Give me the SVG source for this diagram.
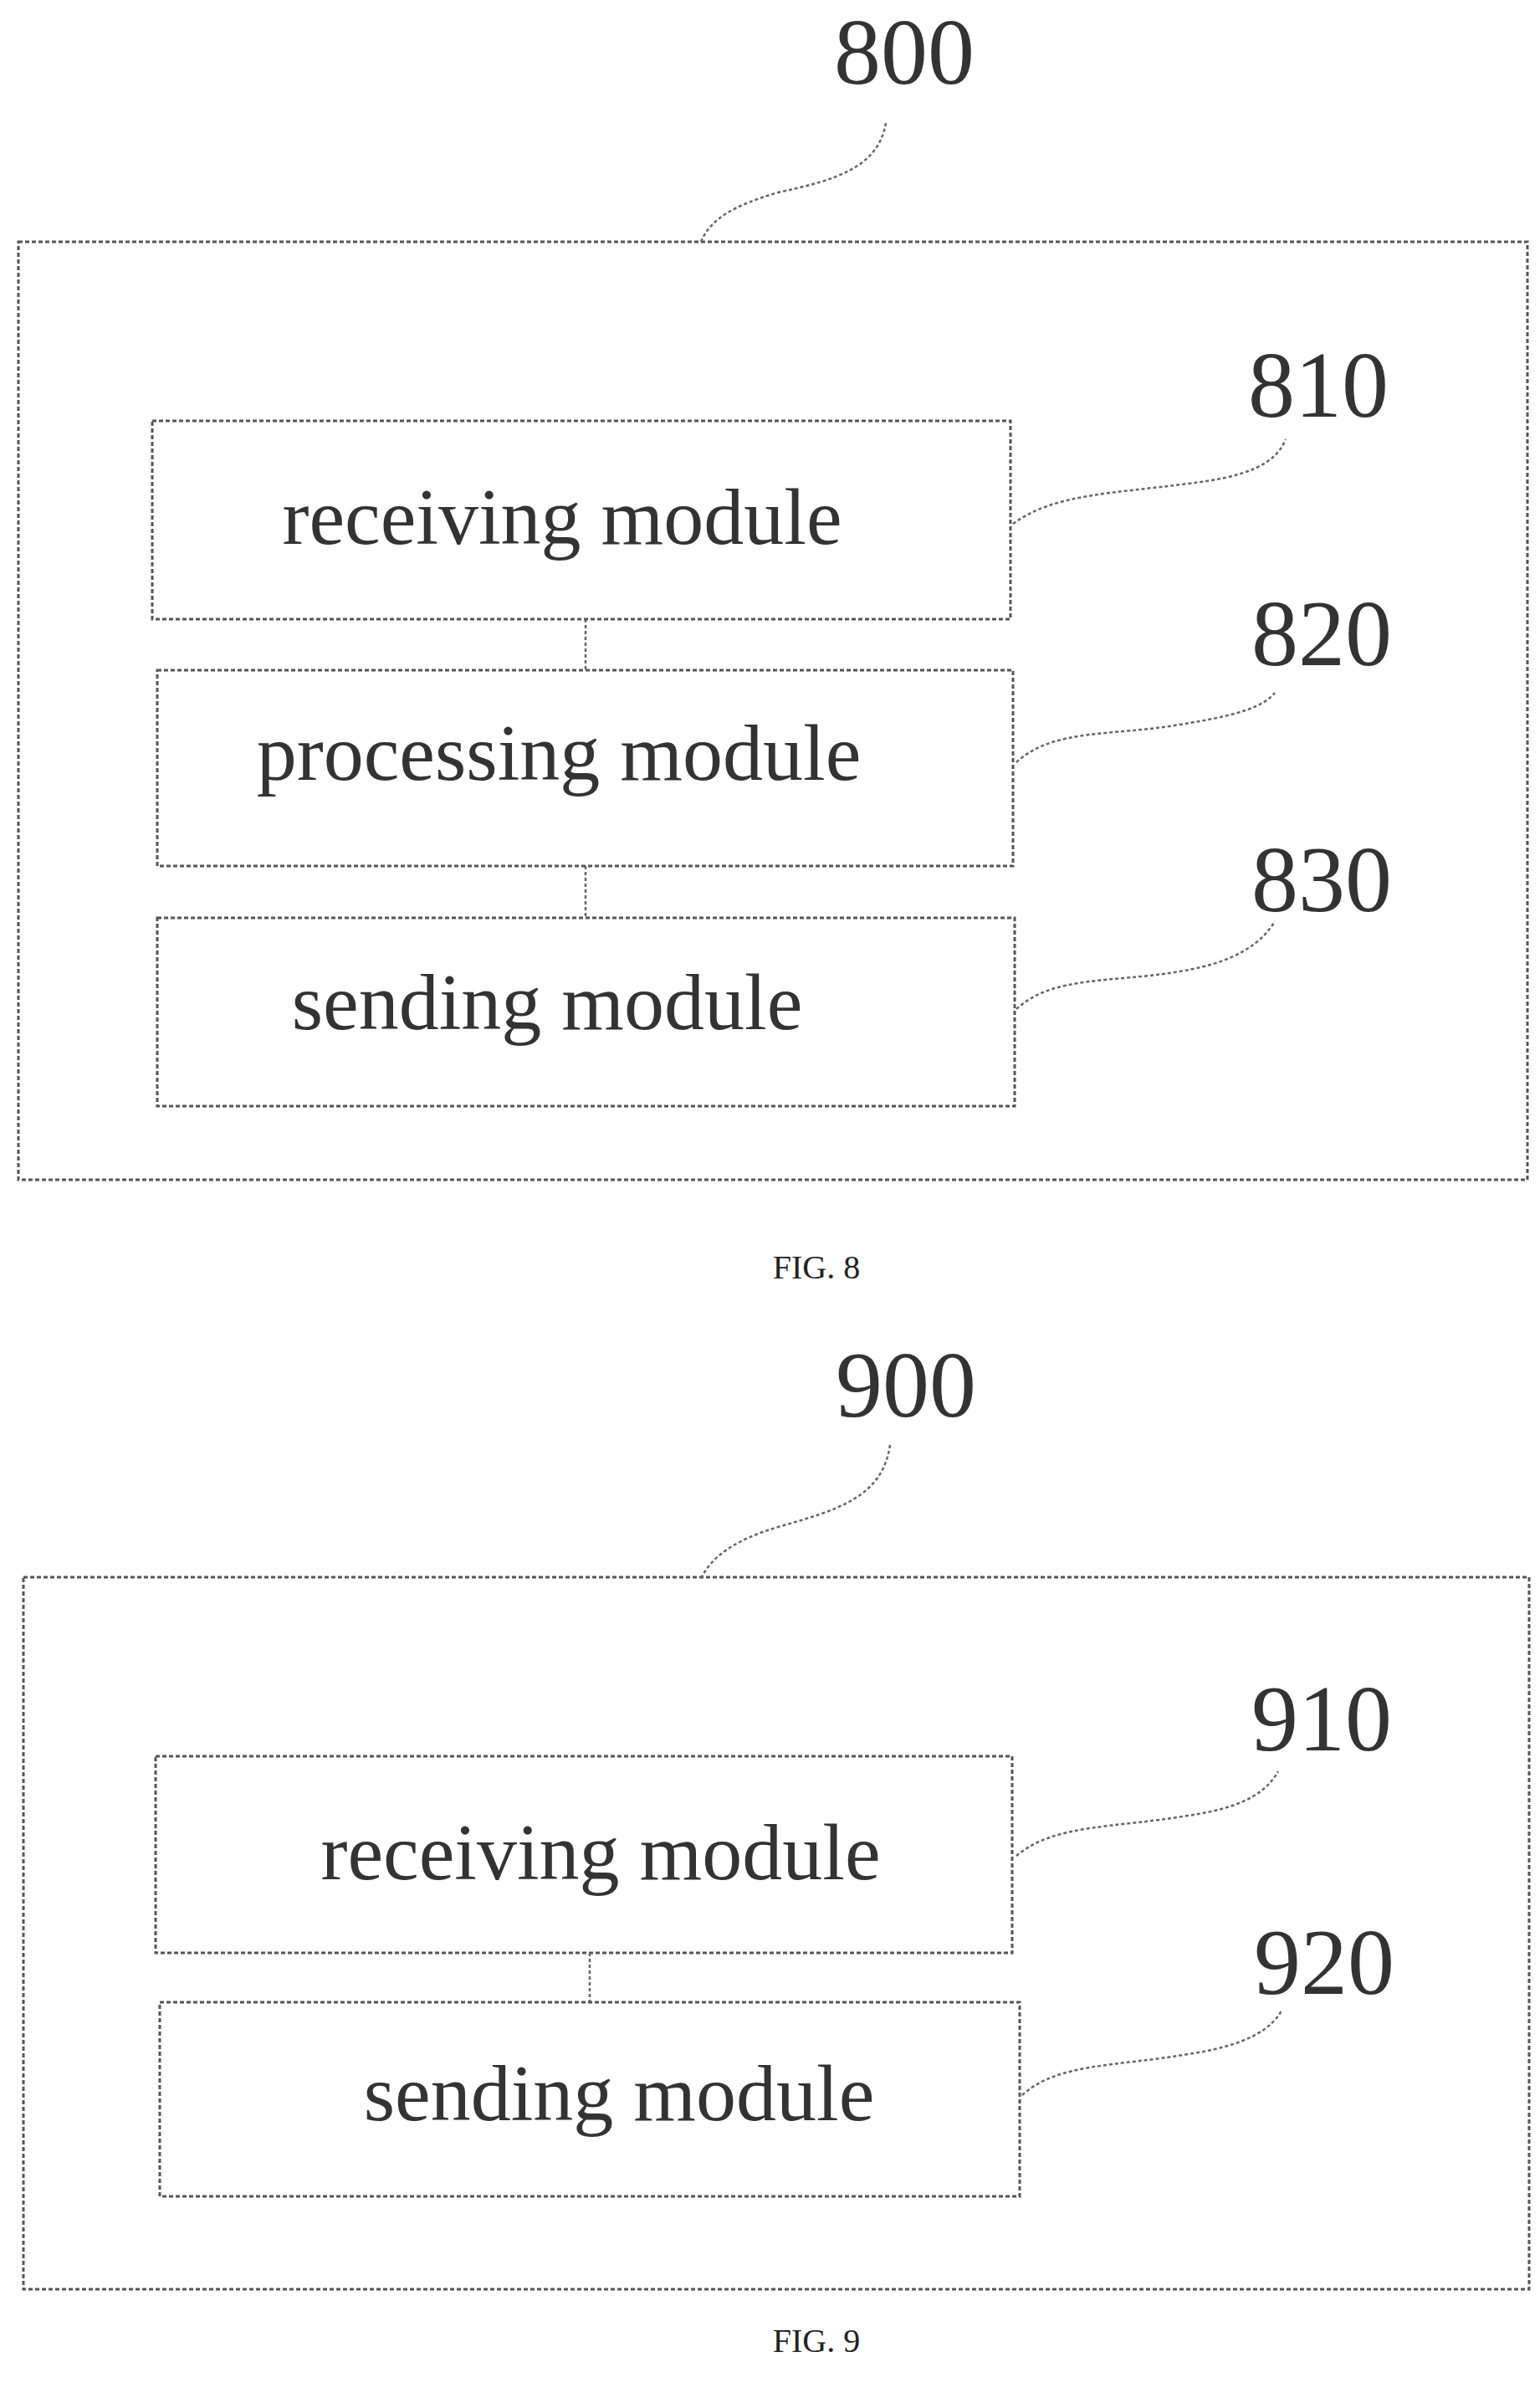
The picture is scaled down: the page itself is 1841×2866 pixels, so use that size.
<svg xmlns="http://www.w3.org/2000/svg" width="1841" height="2866" viewBox="0 0 1841 2866">
<style>
.b{fill:none;stroke:#555;stroke-width:3;stroke-dasharray:5 3}
.l{fill:none;stroke:#666;stroke-width:2.5;stroke-dasharray:4 3}
.t{font-family:"Liberation Serif",serif;font-size:96px;fill:#333;text-anchor:middle}
.n{font-family:"Liberation Serif",serif;font-size:112px;fill:#333;text-anchor:middle}
.f{font-family:"Liberation Serif",serif;font-size:40px;fill:#222;text-anchor:middle}
</style>
<rect width="1841" height="2866" fill="#fff"/>
<g id="fig8">
<rect id="n800" class="b" x="22" y="289" width="1804" height="1121"/>
<text class="n" x="1081" y="100">800</text>
<g id="n810"><rect class="b" x="182" y="503" width="1026" height="237"/><text class="t" x="672" y="650">receiving module</text><text class="n" x="1576" y="498">810</text></g>
<g id="n820"><rect class="b" x="188" y="801" width="1023" height="234"/><text class="t" x="668" y="932">processing module</text><text class="n" x="1580" y="795">820</text></g>
<g id="n830"><rect class="b" x="188" y="1097" width="1025" height="225"/><text class="t" x="654" y="1230">sending module</text><text class="n" x="1580" y="1089">830</text></g>
<text class="f" x="976" y="1528">FIG. 8</text>
</g>
<g id="fig9">
<rect id="n900" class="b" x="28" y="1885" width="1800" height="851"/>
<text class="n" x="1083" y="1693">900</text>
<g id="n910"><rect class="b" x="186" y="2099" width="1024" height="235"/><text class="t" x="718" y="2246">receiving module</text><text class="n" x="1580" y="2092">910</text></g>
<g id="n920"><rect class="b" x="191" y="2393" width="1028" height="232"/><text class="t" x="740" y="2534">sending module</text><text class="n" x="1583" y="2383">920</text></g>
<text class="f" x="976" y="2811">FIG. 9</text>
</g>
<g id="connectors">
<line class="l" x1="700" y1="740" x2="700" y2="801"/>
<line class="l" x1="700" y1="1035" x2="700" y2="1097"/>
<line class="l" x1="705" y1="2334" x2="705" y2="2393"/>
<path class="l" d="M1059,147 C1050,200 1000,215 930,230 C880,245 850,260 838,289"/>
<path class="l" d="M1211,626 C1260,590 1330,590 1420,578 C1490,570 1525,555 1537,525"/>
<path class="l" d="M1215,911 C1260,870 1330,880 1410,866 C1480,855 1510,845 1524,828"/>
<path class="l" d="M1215,1206 C1260,1165 1330,1175 1410,1161 C1480,1150 1510,1125 1524,1101"/>
<path class="l" d="M1064,1727 C1055,1790 1000,1805 930,1825 C880,1840 850,1860 838,1887"/>
<path class="l" d="M1215,2218 C1260,2180 1330,2185 1420,2170 C1490,2160 1515,2140 1528,2117"/>
<path class="l" d="M1222,2504 C1265,2465 1335,2470 1420,2455 C1490,2445 1520,2425 1532,2403"/>
</g>
</svg>
